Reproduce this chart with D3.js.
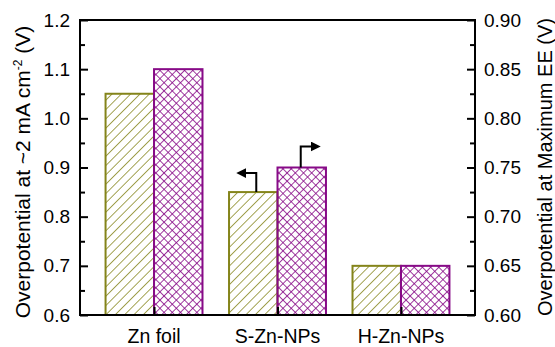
<!DOCTYPE html>
<html lang="en">
<head>
    <meta charset="UTF-8">
    <title>Overpotential bars</title>
    <script src="https://cdn.jsdelivr.net/npm/d3@7"></script>
    <style>
        body { margin: 0; background: #fff; }
        text { font-family: "Liberation Sans", Arial, sans-serif; }
    </style>
</head>
<body>
</body>
<script>
    var categories = ['Zn foil', 'S-Zn-NPs', 'H-Zn-NPs'];
    var leftValues = [1.05, 0.85, 0.70];   // overpotential at ~2 mA cm-2
    var rightValues = [0.85, 0.75, 0.65];  // overpotential at maximum EE
    var leftTicks = [0.6, 0.7, 0.8, 0.9, 1.0, 1.1, 1.2];
    var rightTicks = [0.60, 0.65, 0.70, 0.75, 0.80, 0.85, 0.90];

    var width = 555, height = 347;
    var x0 = 80, x1 = 475, y0 = 315, y1 = 20;
    var olive = '#84841a', purple = '#870a87';
    var fs = 19;

    var svg = d3.select('body').append('svg')
        .attr('width', width)
        .attr('height', height);

    var defs = svg.append('defs');
    // diagonal hatch
    var h = 6.6;
    var p1 = defs.append('pattern').attr('id', 'hatch')
        .attr('patternUnits', 'userSpaceOnUse')
        .attr('width', h).attr('height', h)
        .attr('patternTransform', 'rotate(45)');
    p1.append('line').attr('x1', 0).attr('y1', 0).attr('x2', 0).attr('y2', h)
        .attr('stroke', olive).attr('stroke-width', 1.5);
    // cross hatch
    var c = 5.8;
    var p2 = defs.append('pattern').attr('id', 'cross')
        .attr('patternUnits', 'userSpaceOnUse')
        .attr('width', c).attr('height', c)
        .attr('patternTransform', 'rotate(45)');
    p2.append('line').attr('x1', 0).attr('y1', 0).attr('x2', 0).attr('y2', c)
        .attr('stroke', purple).attr('stroke-width', 1.6);
    p2.append('line').attr('x1', 0).attr('y1', 0).attr('x2', c).attr('y2', 0)
        .attr('stroke', purple).attr('stroke-width', 1.6);

    var x = d3.scaleBand().domain(categories).range([x0, x1])
        .paddingInner(0.215).paddingOuter(0.207);
    var xs = d3.scaleBand().domain(['left', 'right']).range([0, x.bandwidth()]);
    var yL = d3.scaleLinear().domain([0.6, 1.2]).range([y0, y1]);
    var yR = d3.scaleLinear().domain([0.6, 0.9]).range([y0, y1]);

    // bars
    svg.selectAll('.barL').data(categories).enter().append('rect')
        .attr('x', function (d) { return x(d) + xs('left'); })
        .attr('y', function (d, i) { return yL(leftValues[i]); })
        .attr('width', xs.bandwidth())
        .attr('height', function (d, i) { return y0 - yL(leftValues[i]); })
        .attr('fill', 'url(#hatch)')
        .attr('stroke', olive).attr('stroke-width', 2);

    svg.selectAll('.barR').data(categories).enter().append('rect')
        .attr('x', function (d) { return x(d) + xs('right'); })
        .attr('y', function (d, i) { return yR(rightValues[i]); })
        .attr('width', xs.bandwidth())
        .attr('height', function (d, i) { return y0 - yR(rightValues[i]); })
        .attr('fill', 'url(#cross)')
        .attr('stroke', purple).attr('stroke-width', 2);

    // axes
    var minorL = d3.range(0.65, 1.2, 0.1);
    var minorR = d3.range(0.625, 0.9, 0.05);

    svg.append('g').attr('transform', 'translate(' + x0 + ',0)')
        .call(d3.axisRight(yL).tickValues(minorL).tickSize(5).tickFormat(''))
        .call(function (g) { g.select('.domain').remove(); });
    svg.append('g').attr('transform', 'translate(' + x0 + ',0)')
        .call(d3.axisRight(yL).tickValues(leftTicks).tickSize(8).tickFormat(''))
        .call(function (g) { g.select('.domain').remove(); });
    svg.append('g')
        .selectAll('text').data(leftTicks).enter().append('text')
        .attr('x', 70).attr('y', function (d) { return yL(d) + 6.5; })
        .attr('text-anchor', 'end').attr('font-size', fs)
        .text(function (d) { return d3.format('.1f')(d); });

    svg.append('g').attr('transform', 'translate(' + x1 + ',0)')
        .call(d3.axisLeft(yR).tickValues(minorR).tickSize(5).tickFormat(''))
        .call(function (g) { g.select('.domain').remove(); });
    svg.append('g').attr('transform', 'translate(' + x1 + ',0)')
        .call(d3.axisLeft(yR).tickValues(rightTicks).tickSize(8).tickFormat(''))
        .call(function (g) { g.select('.domain').remove(); });
    svg.append('g')
        .selectAll('text').data(rightTicks).enter().append('text')
        .attr('x', 484).attr('y', function (d) { return yR(d) + 6.5; })
        .attr('text-anchor', 'start').attr('font-size', fs)
        .text(function (d) { return d3.format('.2f')(d); });

    // category ticks + labels
    svg.append('g').attr('transform', 'translate(0,' + y0 + ')')
        .call(d3.axisTop(d3.scalePoint().domain(categories).range([x(categories[0]) + x.bandwidth() / 2, x(categories[2]) + x.bandwidth() / 2]))
            .tickSize(8).tickFormat(''))
        .call(function (g) { g.select('.domain').remove(); });
    svg.selectAll('.cat').data(categories).enter().append('text')
        .attr('x', function (d) { return x(d) + x.bandwidth() / 2; })
        .attr('y', 343)
        .attr('text-anchor', 'middle').attr('font-size', 19.5)
        .text(function (d) { return d; });

    svg.selectAll('.tick line').attr('stroke', '#000').attr('stroke-width', 2);

    // frame
    svg.append('rect').attr('x', x0).attr('y', y1)
        .attr('width', x1 - x0).attr('height', y0 - y1)
        .attr('fill', 'none').attr('stroke', '#000').attr('stroke-width', 2);

    // axis titles
    var lt = svg.append('text').attr('transform', 'translate(30,' + 172 + ') rotate(-90)')
        .attr('text-anchor', 'middle').attr('font-size', 21);
    lt.append('tspan').text('Overpotential at ~2 mA cm');
    lt.append('tspan').attr('dy', -8).attr('font-size', 12).text('-2');
    lt.append('tspan').attr('dy', 8).text(' (V)');

    svg.append('text').attr('transform', 'translate(552,' + 167 + ') rotate(-90)')
        .attr('text-anchor', 'middle').attr('font-size', 20)
        .text('Overpotential at Maximum EE (V)');

    // arrows indicating axis
    defs.append('marker').attr('id', 'ah')
        .attr('viewBox', '0 0 10 10').attr('refX', 2).attr('refY', 5)
        .attr('markerWidth', 5).attr('markerHeight', 5)
        .attr('markerUnits', 'strokeWidth')
        .attr('orient', 'auto')
        .append('path').attr('d', 'M0,0 L10,5 L0,10 z').attr('fill', '#000');

    var sc = categories[1];
    var ax = x(sc) + xs('left') + xs.bandwidth() / 2 + 3;
    var ay = yL(leftValues[1]);
    svg.append('path')
        .attr('d', 'M' + ax + ',' + ay + ' V' + (ay - 19) + ' H' + (ax - 12))
        .attr('fill', 'none').attr('stroke', '#000').attr('stroke-width', 2)
        .attr('marker-end', 'url(#ah)');
    var bx = x(sc) + xs('right') + xs.bandwidth() / 2 - 1;
    var by = yR(rightValues[1]);
    svg.append('path')
        .attr('d', 'M' + bx + ',' + by + ' V' + (by - 21) + ' H' + (bx + 12))
        .attr('fill', 'none').attr('stroke', '#000').attr('stroke-width', 2)
        .attr('marker-end', 'url(#ah)');
</script>
</html>
